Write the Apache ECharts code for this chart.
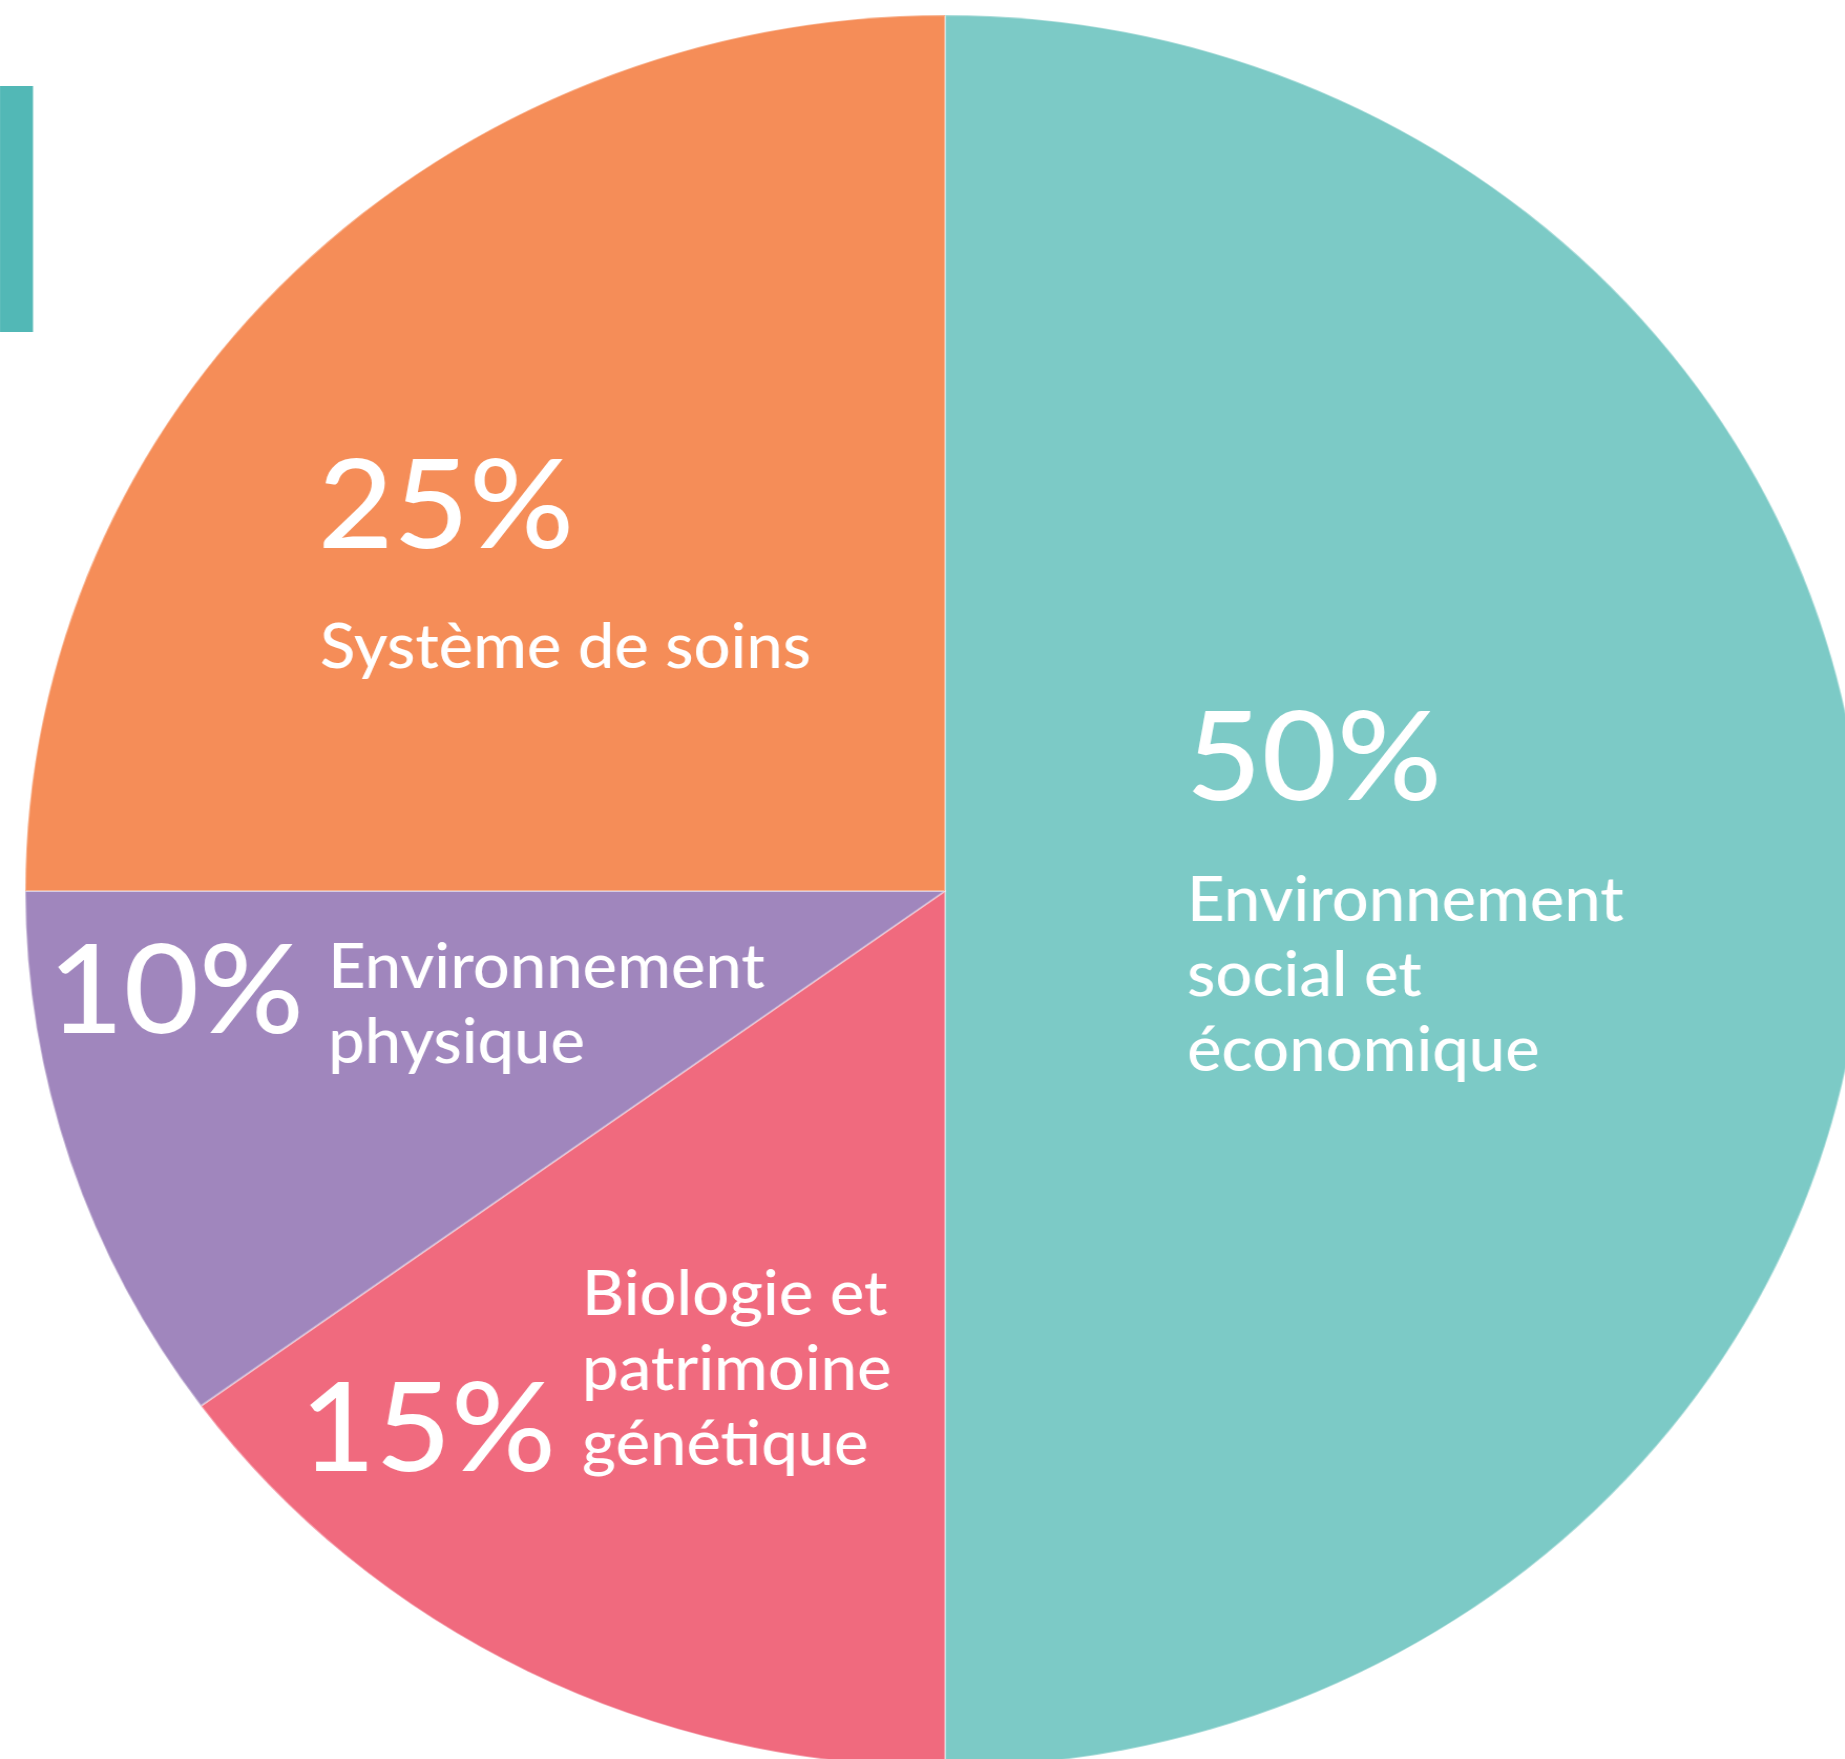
<!DOCTYPE html>
<html>
<head>
<meta charset="utf-8">
<script src="https://cdn.jsdelivr.net/npm/echarts@6/dist/echarts.min.js"></script>
<style>
  html, body { margin: 0; padding: 0; overflow: hidden; background: #ffffff; }
  #chart { width: 1845px; height: 1759px; transform: scaleX(1.05); transform-origin: 945px 0; }
</style>
</head>
<body>
<div id="chart"></div>
<script>
// ---- data ----
const categories = ['Environnement social et économique', 'Biologie et patrimoine génétique', 'Environnement physique', 'Système de soins'];
const values = [50, 15, 10, 25];
const labelLines = [
  ['Environnement', 'social et', 'économique'],
  ['Biologie et', 'patrimoine', 'génétique'],
  ['Environnement', 'physique'],
  ['Système de soins']
];
const sliceColors = ['#7ccac6', '#f06a7e', '#a086bd', '#f58d58'];

// ---- layout (real page coordinates) ----
const SX = 1.05, CX = 945, CY = 891, R = 876;
const toPre = x => CX + (x - CX) / SX;
const labelLayout = [
  { px: 1186, py: 760,  nx: 1187, ny: 863 },
  { px: 300,  py: 1431, nx: 582,  ny: 1257 },
  { px: 48,   py: 993,  nx: 328,  ny: 930 },
  { px: 318,  py: 508,  nx: 320,  ny: 610 }
];
const BIG = 124, SMALL = 62, LH = 75, WEIGHT = 500;

const graphics = [{
  type: 'rect',
  shape: { x: toPre(0), y: 86, width: toPre(33) - toPre(0), height: 246 },
  style: { fill: '#52b8b6' },
  z: 10
}];
values.forEach((v, i) => {
  const L = labelLayout[i];
  graphics.push({
    type: 'text', z: 20,
    style: {
      text: v + '%', x: toPre(L.px), y: L.py,
      font: WEIGHT + ' ' + BIG + 'px Lato', fill: '#ffffff',
      textAlign: 'left', textVerticalAlign: 'middle', align: 'left', verticalAlign: 'middle'
    }
  });
  graphics.push({
    type: 'text', z: 20,
    style: {
      text: labelLines[i].join('\n'), x: toPre(L.nx), y: L.ny,
      font: WEIGHT + ' ' + SMALL + 'px Lato', fill: '#ffffff', lineHeight: LH,
      textAlign: 'left', textVerticalAlign: 'top', align: 'left', verticalAlign: 'top'
    }
  });
});

const chart = echarts.init(document.getElementById('chart'), null, { renderer: 'canvas' });
chart.setOption({
  animation: false,
  backgroundColor: '#ffffff',
  series: [{
    type: 'pie',
    center: [CX, CY],
    radius: [0, R],
    startAngle: 90,
    clockwise: true,
    label: { show: false },
    labelLine: { show: false },
    emphasis: { disabled: true },
    itemStyle: { borderColor: 'rgba(255,255,255,0.35)', borderWidth: 2 },
    data: values.map((v, i) => ({ name: categories[i], value: v, itemStyle: { color: sliceColors[i] } }))
  }],
  graphic: graphics
});
</script>
</body>
</html>
